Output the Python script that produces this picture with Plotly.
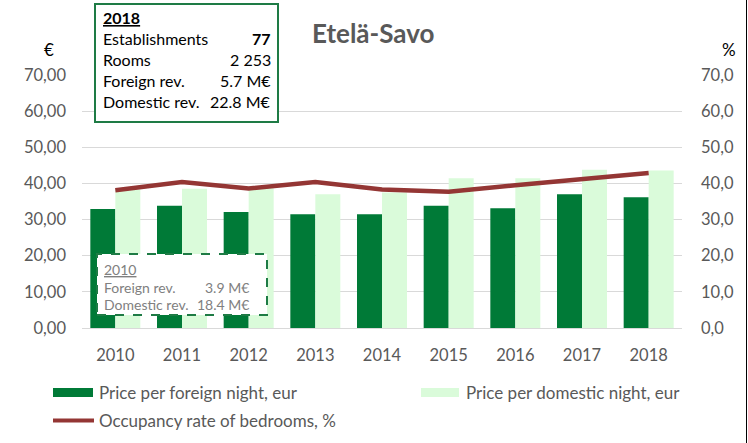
import plotly.graph_objects as go

years = ["2010", "2011", "2012", "2013", "2014", "2015", "2016", "2017", "2018"]
foreign_price = [32.9, 33.8, 32.1, 31.5, 31.5, 33.8, 33.1, 37.0, 36.2]
domestic_price = [38.3, 38.5, 38.7, 37.0, 37.5, 41.4, 41.4, 43.8, 43.6]
occupancy = [38.1, 40.4, 38.6, 40.4, 38.3, 37.7, 39.5, 41.2, 42.9]

left_ticks = [0, 10, 20, 30, 40, 50, 60, 70]
left_ticktext = ["0,00", "10,00", "20,00", "30,00", "40,00", "50,00", "60,00", "70,00"]
right_ticktext = ["0,0", "10,0", "20,0", "30,0", "40,0", "50,0", "60,0", "70,0"]

box2018_rows = [("Establishments", "77"), ("Rooms", "2 253"), ("Foreign rev.", "5.7 M€"), ("Domestic rev.", "22.8 M€")]
box2010_rows = [("Foreign rev.", "3.9 M€"), ("Domestic rev.", "18.4 M€")]

names = ["Price per foreign night, eur", "Price per domestic night, eur", "Occupancy rate of bedrooms, %"]
colors = ["#007a37", "#dafbda", "#943634"]

W, H = 748, 443
L, R, T, B = 82, 682, 75, 328
FONT = "Lato"
GRAY = "#595959"

def px(x):
    return (x - L) / (R - L)

def py(y):
    return (B - y) / (B - T)

fig = go.Figure()
fig.add_trace(go.Bar(x=years, y=foreign_price, name=names[0],
                     marker_color=colors[0], marker_line_width=0))
fig.add_trace(go.Bar(x=years, y=domestic_price, name=names[1],
                     marker_color=colors[1], marker_line_width=0))
fig.add_trace(go.Scatter(x=years, y=occupancy, name=names[2],
                         mode="lines", line=dict(color=colors[2], width=4.5), yaxis="y2"))

shapes = []
annotations = []

def ann(text, x, y, size, color, xanchor="left", yanchor="middle"):
    annotations.append(dict(text=text, x=px(x), y=py(y), xref="paper", yref="paper", showarrow=False,
                            font=dict(family=FONT, size=size, color=color),
                            xanchor=xanchor, yanchor=yanchor))

# title
ann("<b>Etelä-Savo</b>", 373, 33, 26, GRAY, xanchor="center")
# axis unit labels
ann("€", 49, 50, 17, "#000000", xanchor="center")
ann("%", 729, 50, 17, "#000000", xanchor="center")

# 2018 box
shapes.append(dict(type="rect", xref="paper", yref="paper", x0=px(95), x1=px(278), y0=py(122), y1=py(4),
                   line=dict(color="#1e7b45", width=2), fillcolor="white", layer="above"))
ann("<b><u>2018</u></b>", 101, 18, 16, "#000000")
for i, (lab, val) in enumerate(box2018_rows):
    yy = 39 + i * 20.7
    ann(lab, 101, yy, 16, "#000000")
    ann(("<b>%s</b>" % val) if i == 0 else val, 273, yy, 16, "#000000", xanchor="right")

# 2010 box
shapes.append(dict(type="rect", xref="paper", yref="paper", x0=px(97), x1=px(267), y0=py(315), y1=py(254),
                   line=dict(color="#1e7b45", width=2, dash="dash"), fillcolor="white", layer="above"))
ann("<u>2010</u>", 102, 269, 14, "#808080")
for i, (lab, val) in enumerate(box2010_rows):
    yy = 287 + i * 17
    ann(lab, 102, yy, 14, "#808080")
    ann(val, 251, yy, 14, "#808080", xanchor="right")

# custom legend
shapes.append(dict(type="rect", xref="paper", yref="paper", x0=px(53), x1=px(93), y0=py(397), y1=py(388),
                   line=dict(width=0), fillcolor=colors[0]))
ann(names[0], 97, 392.5, 17, GRAY)
shapes.append(dict(type="rect", xref="paper", yref="paper", x0=px(421), x1=px(459), y0=py(397), y1=py(388),
                   line=dict(width=0), fillcolor=colors[1]))
ann(names[1], 464, 392.5, 17, GRAY)
shapes.append(dict(type="line", xref="paper", yref="paper", x0=px(53), x1=px(94), y0=py(420.5), y1=py(420.5),
                   line=dict(color=colors[2], width=4)))
ann(names[2], 97, 420.5, 17, GRAY)

# right border line of chart frame
shapes.append(dict(type="line", xref="paper", yref="paper", x0=px(746.5), x1=px(746.5), y0=py(443), y1=py(0),
                   line=dict(color="#000000", width=1)))

fig.update_layout(
    width=W, height=H,
    margin=dict(l=L, r=W - R, t=T, b=H - B, autoexpand=False),
    paper_bgcolor="white", plot_bgcolor="white",
    barmode="group", bargap=0.25, bargroupgap=0,
    font=dict(family=FONT, size=16, color=GRAY),
    showlegend=False,
    xaxis=dict(type="category", showgrid=False, showline=True, linecolor="#d9d9d9", linewidth=1,
               ticks="", ticklabelstandoff=12, automargin=False,
               tickfont=dict(family=FONT, size=16.5, color=GRAY)),
    yaxis=dict(range=[0, 70], tickvals=left_ticks, ticktext=left_ticktext, showgrid=True,
               gridcolor="#d9d9d9", gridwidth=1, zeroline=False, showline=False, ticks="",
               ticklabelstandoff=15, automargin=False,
               tickfont=dict(family=FONT, size=16.5, color=GRAY)),
    yaxis2=dict(range=[0, 70], tickvals=left_ticks, ticktext=right_ticktext, overlaying="y", side="right",
                showgrid=False, zeroline=False, showline=False, ticks="", ticklabelstandoff=18,
                automargin=False, tickfont=dict(family=FONT, size=16.5, color=GRAY)),
    shapes=shapes, annotations=annotations,
)

fig.write_html("out.html", config={"displayModeBar": False},
               post_script="document.body.style.margin='0';document.body.style.overflow='hidden';")
